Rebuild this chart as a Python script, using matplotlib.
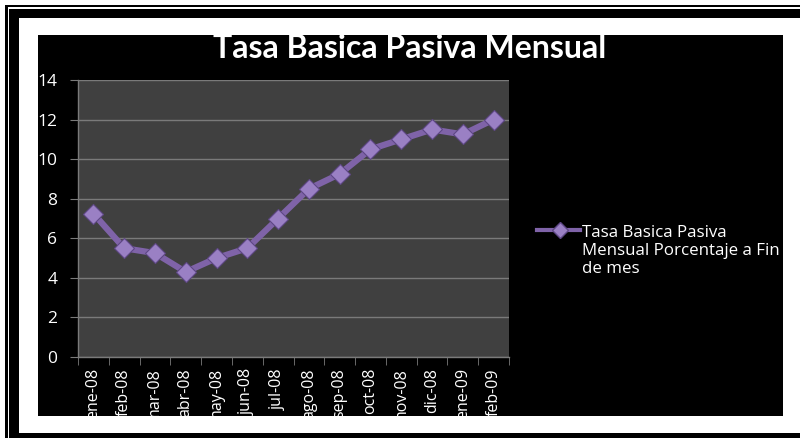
import matplotlib
matplotlib.use("Agg")
import matplotlib.pyplot as plt
from matplotlib.patches import Rectangle
from matplotlib.lines import Line2D

W, H = 800, 438
PURPLE, PURPLE_LT, PLOT_BG, GRID = "#7F63A8", "#9A80C4", "#404040", "#7A7A7A"
plt.rcParams["font.family"] = ["Open Sans", "DejaVu Sans"]

months = ["ene-08", "feb-08", "mar-08", "abr-08", "may-08", "jun-08", "jul-08",
          "ago-08", "sep-08", "oct-08", "nov-08", "dic-08", "ene-09", "feb-09"]
tasa = [7.25, 5.5, 5.25, 4.3, 5.0, 5.5, 7.0, 8.5, 9.25, 10.5, 11.0, 11.5, 11.25, 12.0]
yticks = [0, 2, 4, 6, 8, 10, 12, 14]
title = "Tasa Basica Pasiva Mensual"
series_label = ["Tasa Basica Pasiva", "Mensual Porcentaje a Fin", "de mes"]


def box(fig, x0, y0, x1, y1, color):
    # pixel box measured from the top-left corner
    fig.patches.append(Rectangle((x0 / W, 1 - y1 / H), (x1 - x0) / W, (y1 - y0) / H,
                                 transform=fig.transFigure, color=color, lw=0, zorder=-5))


fig = plt.figure(figsize=(W / 100, H / 100), dpi=100, facecolor="white")

# double frame and the black chart area
box(fig, 5, 5, 800, 7, "black")
box(fig, 5, 5, 7.5, 438, "black")
box(fig, 9, 9, 800, 17.5, "black")
box(fig, 9, 9, 18.5, 438, "black")
box(fig, 9, 433, 800, 438, "black")
box(fig, 38, 35, 783, 416, "black")

ax = fig.add_axes([78 / W, 1 - 357 / H, 431 / W, 277 / H])
ax.set_zorder(2)
ax.set_facecolor(PLOT_BG)
x = list(range(len(months)))
ax.plot(x, tasa, color=PURPLE, lw=4.5, marker="D", ms=10, mfc=PURPLE_LT,
        mec="#5E4785", mew=0.8, zorder=3, solid_capstyle="round")
ax.set_xlim(-0.5, len(months) - 0.5)
ax.set_ylim(0, 14)
ax.set_yticks(yticks)
ax.grid(axis="y", color=GRID, lw=1)
ax.set_axisbelow(True)
ax.set_xticks(x)
ax.set_xticklabels(months, rotation=90, color="white", fontsize=11.5)
ax.set_xticks([i - 0.5 for i in range(len(months) + 1)], minor=True)
ax.tick_params(axis="x", which="major", length=0, pad=8)
ax.tick_params(axis="x", which="minor", length=6, color=GRID)
ax.tick_params(axis="y", length=6, color=GRID, labelcolor="white", labelsize=12.5, pad=9)
for s in ["top", "right"]:
    ax.spines[s].set_visible(False)
for s in ["left", "bottom"]:
    ax.spines[s].set_color(GRID)
    ax.spines[s].set_linewidth(1)

fig.text(410 / W, 1 - 48 / H, title, ha="center", va="center", color="white",
         fontsize=23, fontweight="bold", family=["Lato", "DejaVu Sans"], zorder=3)

# legend drawn by hand so the marker lines up with the first text line
fig.add_artist(Line2D([537 / W, 580 / W], [1 - 230 / H, 1 - 230 / H], color=PURPLE, lw=3,
                      transform=fig.transFigure, zorder=3))
fig.add_artist(Line2D([560 / W], [1 - 230 / H], marker="D", ms=8, mfc=PURPLE_LT,
                      mec="#5E4785", transform=fig.transFigure, zorder=4))
for i, line in enumerate(series_label):
    fig.text(582 / W, 1 - (237 + 18 * i) / H, line, ha="left", va="baseline",
             color="white", fontsize=12.2, zorder=3)

fig.savefig("out.png", dpi=100, facecolor="white")
